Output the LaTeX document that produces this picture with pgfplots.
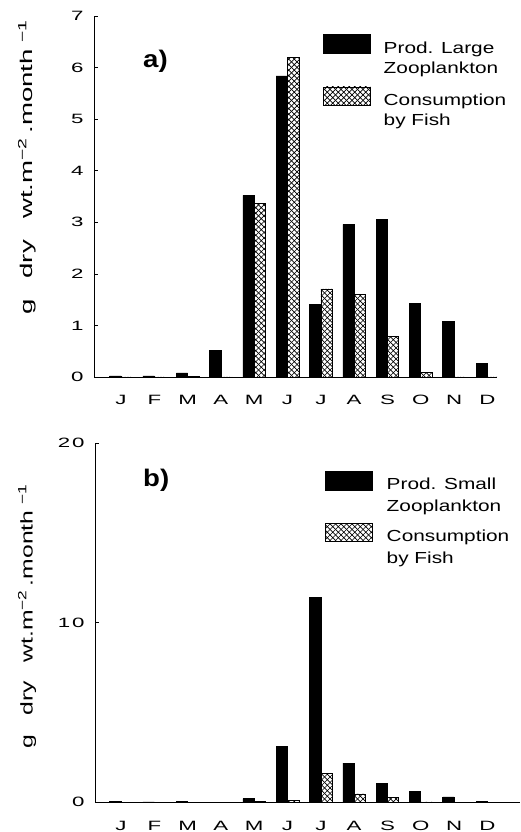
\documentclass[border=0pt]{standalone}
\usepackage{fontspec}
\usepackage{graphicx}
\setmainfont{Liberation Sans}
\newfontfamily\legfont{Liberation Sans}[FakeStretch=1.3]
\newfontfamily\ylabfont{Liberation Sans}[FakeStretch=1.3]
\newfontfamily\tickfont{Liberation Sans}[FakeStretch=1.65,LetterSpace=14]
\newfontfamily\panelfont{Liberation Sans}[FakeStretch=1.15]
\usepackage{pgfplots}
\pgfplotsset{compat=1.18}
\usetikzlibrary{patterns}
\pgfdeclarepatternformonly{xhatch}{\pgfqpoint{-0.5pt}{-0.5pt}}{\pgfqpoint{6pt}{6pt}}{\pgfqpoint{5.5pt}{5.5pt}}{%
  \pgfsetlinewidth{0.7pt}%
  \pgfpathmoveto{\pgfqpoint{0pt}{0pt}}\pgfpathlineto{\pgfqpoint{5.5pt}{5.5pt}}%
  \pgfpathmoveto{\pgfqpoint{0pt}{5.5pt}}\pgfpathlineto{\pgfqpoint{5.5pt}{0pt}}%
  \pgfusepath{stroke}}

\newcommand{\ylabtext}{g\hspace{1em}dry\hspace{1em}wt.m\textsuperscript{−2}\hspace{0.2em}.month\hspace{0.3em}\textsuperscript{−1}}

\pgfplotsset{
  panel/.style={
    scale only axis, anchor=origin,
    axis lines=left, axis line style={-, line width=0.8pt},
    enlargelimits=false, ymin=0,
    xtick={0,...,11}, xticklabels={J,F,M,A,M,J,J,A,S,O,N,D},
    major x tick style={draw=none},
    tick align=inside, major tick length=4pt,
    every tick/.style={line width=0.6pt, black},
    /pgf/number format/assume math mode=true,
    ticklabel style={font=\tickfont\fontsize{13.5}{15}\selectfont},
    xticklabel style={yshift=-11pt},
    yticklabel style={xshift=-7pt},
    ybar=0pt, bar width=0.34,
    legend image code/.code={\draw[##1, line width=0.6pt] (0pt,0pt) rectangle (47pt,18.5pt);},
    legend style={anchor=north west, draw=none, fill=none, inner sep=0pt,
      row sep=0pt, column sep=13pt, nodes={inner sep=0pt, text depth=, text height=},
      cells={anchor=base west}},
  }
}

\begin{document}
\begin{tikzpicture}
\path[use as bounding box] (0pt,0pt) rectangle (521pt,832pt);

% ---- panel a ----
\begin{axis}[panel, at={(121pt,455pt)}, width=403pt, height=361pt,
  xmin=-0.81, xmax=11.29, ymax=7, ytick={0,1,...,7},
  legend style={at={(0.568,0.95)}, font=\legfont\fontsize{16}{20}\selectfont}]
\addplot[fill=black, draw=black, line width=0.6pt, bar shift=-0.17] coordinates {
(0,0.02) (1,0.02) (2,0.08) (3,0.52) (4,3.52) (5,5.84) (6,1.41) (7,2.96) (8,3.06) (9,1.42) (10,1.08) (11,0.26)};
\addlegendentry{\begin{tabular}[t]{@{}l@{}}Prod. Large\\Zooplankton\rule[-13.5pt]{0pt}{0pt}\end{tabular}}
\addplot[pattern=xhatch, draw=black, line width=0.6pt, bar shift=0.17] coordinates {
(0,0) (1,0) (2,0.01) (3,0) (4,3.36) (5,6.19) (6,1.71) (7,1.60) (8,0.79) (9,0.09) (10,0) (11,0)};
\addlegendentry{\begin{tabular}[t]{@{}l@{}}Consumption\\by Fish\end{tabular}}
\end{axis}

% ---- panel b ----
\begin{axis}[panel, at={(121pt,29.7pt)}, width=425pt, height=359pt,
  xmin=-0.78, xmax=11.98, ymax=20, ytick={0,10,20},
  legend style={at={(0.541,0.923)}, font=\legfont\fontsize{16}{22}\selectfont, column sep=14pt}]
\addplot[fill=black, draw=black, line width=0.6pt, bar shift=-0.17] coordinates {
(0,0.03) (1,0.02) (2,0.03) (3,0.01) (4,0.2) (5,3.12) (6,11.4) (7,2.18) (8,1.06) (9,0.6) (10,0.3) (11,0.05)};
\addlegendentry{\begin{tabular}[t]{@{}l@{}}Prod. Small\\Zooplankton\rule[-11pt]{0pt}{0pt}\end{tabular}}
\addplot[pattern=xhatch, draw=black, line width=0.6pt, bar shift=0.17] coordinates {
(0,0) (1,0) (2,0) (3,0) (4,0.05) (5,0.1) (6,1.63) (7,0.47) (8,0.27) (9,0.02) (10,0.01) (11,0)};
\addlegendentry{\begin{tabular}[t]{@{}l@{}}Consumption\\by Fish\end{tabular}}
\end{axis}

% ---- labels ----
\node[rotate=90, inner sep=0pt] at (27pt,664.5pt)
  {\resizebox{295pt}{\height}{\ylabfont\fontsize{17}{20}\selectfont\ylabtext}};
\node[rotate=90, inner sep=0pt] at (27pt,215.5pt)
  {\resizebox{264pt}{\height}{\ylabfont\fontsize{17}{20}\selectfont\ylabtext}};
\node[anchor=west, inner sep=0pt, font=\panelfont\bfseries\fontsize{24}{28}\selectfont] at (143pt,771pt) {a)};
\node[anchor=west, inner sep=0pt, font=\panelfont\bfseries\fontsize{24}{28}\selectfont] at (143pt,352pt) {b)};
\end{tikzpicture}
\end{document}
